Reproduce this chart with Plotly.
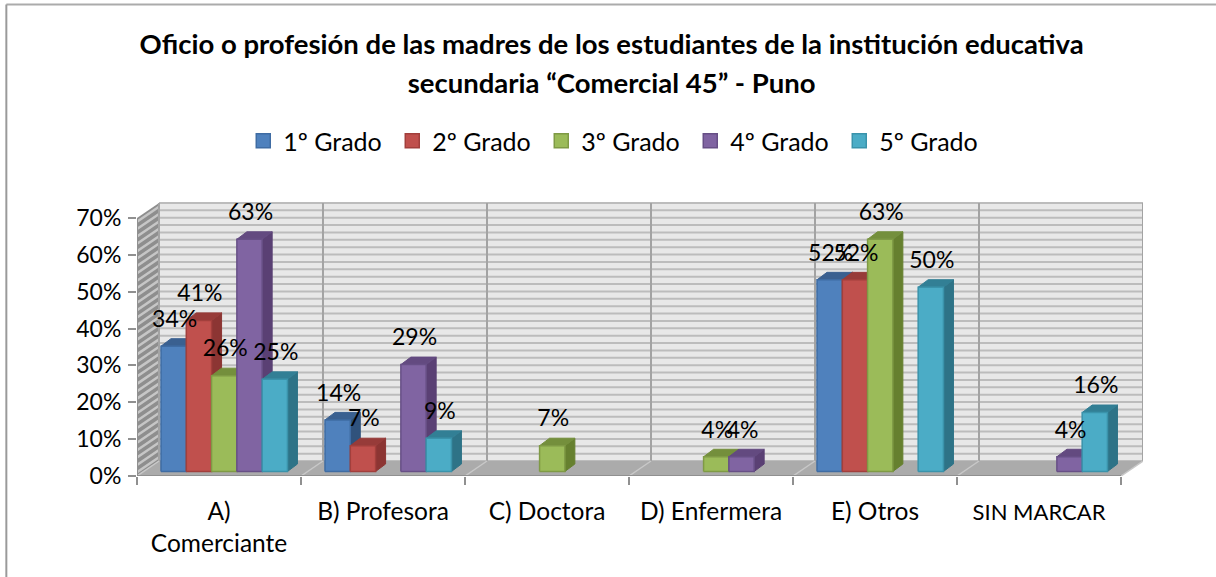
import plotly.graph_objects as go

categories = ["A)<br>Comerciante", "B) Profesora", "C) Doctora", "D) Enfermera", "E) Otros", "SIN MARCAR"]
series_names = ["1º Grado", "2º Grado", "3º Grado", "4º Grado", "5º Grado"]
grado_1 = [34, 14, 0, 0, 52, 0]
grado_2 = [41, 7, 0, 0, 52, 0]
grado_3 = [26, 0, 7, 4, 63, 0]
grado_4 = [63, 29, 0, 4, 0, 4]
grado_5 = [25, 9, 0, 0, 50, 16]
series_values = [grado_1, grado_2, grado_3, grado_4, grado_5]
y_ticks = [0, 10, 20, 30, 40, 50, 60, 70]
y_tick_labels = ["0%", "10%", "20%", "30%", "40%", "50%", "60%", "70%"]

front = ["#4F81BD", "#C0504D", "#9BBB59", "#8064A2", "#4BACC6"]
edge = ["#3F6CA3", "#A23F3C", "#7F9A45", "#674F86", "#3A93AB"]
side = ["#30527C", "#8C3533", "#66802F", "#5A4074", "#2E7387"]
top = ["#3A6090", "#973B39", "#748F3C", "#634A80", "#327F95"]

# pixel geometry of the fake 3-D box
W, H = 1216, 577
X0, X1, Y0, Y70 = 136.7, 1121.0, 476.0, 218.0
BOX_DX, BOX_DY = 22.0, 15.0
PX_X = (X1 - X0) / len(categories)     # pixels per category
PX_Y = (Y0 - Y70) / 70.0               # pixels per percent
ux = lambda px: px / PX_X
uy = lambda px: px / PX_Y
XMAX = len(categories) + ux(BOX_DX)
YMAX = (Y0 - (Y70 - BOX_DY - 1)) / PX_Y
bd, bh = ux(BOX_DX), uy(BOX_DY)
n = len(categories)
PLOT_W = X1 + BOX_DX - X0
PLOT_H = Y0 - Y70 + BOX_DY + 1
fx = lambda px: (px - X0) / PLOT_W
fy = lambda py: (Y0 - py) / PLOT_H

fig = go.Figure()
shapes = []


def poly(xs, ys, fill, line=None, width=0):
    d = "M " + " L ".join(f"{x:.4f},{y:.4f}" for x, y in zip(xs, ys)) + " Z"
    shapes.append(dict(type="path", path=d, xref="x", yref="y", layer="below", fillcolor=fill,
                       line=dict(color=line or fill, width=width)))


def seg(x0, y0, x1, y1, color, width):
    shapes.append(dict(type="line", x0=x0, y0=y0, x1=x1, y1=y1, xref="x", yref="y", layer="below",
                       line=dict(color=color, width=width)))


# back wall, left wall, floor
poly([bd, n + bd, n + bd, bd], [bh, bh, 70 + bh, 70 + bh], "#E8E8E8")
poly([0, bd, bd, 0], [0, bh, 70 + bh, 70], "#8E8E8E")
for v in range(0, 72, 2):
    seg(bd, v + bh, n + bd, v + bh, "#BCBCBC", 2)
    if v < 70:
        seg(0, v + 1, bd, v + 1 + bh, "#C6C6C6", 2.5)
for k in range(n + 1):
    seg(k + bd, bh, k + bd, 70 + bh, "#A3A3A3", 2)
poly([0, n, n + bd, bd], [0, 0, bh, bh], "#ABABAB")
for k in range(n + 1):
    seg(k, 0, k + bd, bh, "#C8C8C8", 1.5)
seg(0, 0, n, 0, "#909090", 2)
seg(0, 0, 0, 70, "#909090", 2)

# bars: side, top and front faces of every bar, in series order
GROUP_START = ux(24.0)
BAR_W = ux(25.3)
BASE = uy(4.5)
DX, DY = ux(10.0), uy(7.5)
for c in range(n):
    for s, vals in enumerate(series_values):
        v = vals[c]
        if not v:
            continue
        l = c + GROUP_START + s * BAR_W
        r = l + BAR_W
        b = BASE
        t = BASE + v
        for xs, ys, col in (
            ([r, r + DX, r + DX, r, r], [b, b + DY, t + DY, t, b], side[s]),
            ([l, l + DX, r + DX, r, l], [t, t + DY, t + DY, t, t], top[s]),
        ):
            fig.add_trace(go.Scatter(x=xs, y=ys, mode="lines", fill="toself", fillcolor=col,
                                     line=dict(color=col, width=1), hoverinfo="skip", showlegend=False))
        fig.add_trace(go.Scatter(x=[l, r, r, l, l], y=[b, b, t, t, b], mode="lines", fill="toself",
                                 fillcolor=front[s], line=dict(color=edge[s], width=1.5),
                                 name=series_names[s], hovertemplate=f"{v}%", showlegend=False))

# data labels
LX, LY, LT = [], [], []
for c in range(n):
    for s, vals in enumerate(series_values):
        if vals[c]:
            LX.append(c + GROUP_START + (s + 0.5) * BAR_W + ux(1))
            LY.append(BASE + vals[c] + uy(25))
            LT.append(f"{vals[c]}%")
fig.add_trace(go.Scatter(x=LX, y=LY, text=LT, mode="text", textposition="middle center",
                         textfont=dict(family="Lato", size=23, color="#000000"),
                         hoverinfo="skip", showlegend=False, cliponaxis=False))

# legend entries
for s, name in enumerate(series_names):
    fig.add_trace(go.Scatter(x=[None], y=[None], mode="markers", name=name,
                             marker=dict(symbol="square", size=14, color=front[s],
                                         line=dict(color=edge[s], width=1.5))))

frame = [
    dict(type="line", xref="paper", yref="paper", x0=fx(6), x1=fx(W), y0=fy(4.5), y1=fy(4.5),
         line=dict(color="#ABABAB", width=2), layer="below"),
    dict(type="line", xref="paper", yref="paper", x0=fx(6), x1=fx(6), y0=fy(H), y1=fy(4.5),
         line=dict(color="#9A9A9A", width=2), layer="below"),
]

tick_text = [f'<span style="font-size:22px">{c}</span>' if c.isupper() else c for c in categories]

fig.update_layout(
    width=W, height=H, autosize=False, paper_bgcolor="#FFFFFF", plot_bgcolor="rgba(0,0,0,0)",
    margin=dict(l=X0, r=W - X1 - BOX_DX, t=Y70 - BOX_DY - 1, b=H - Y0, pad=0),
    font=dict(family="Lato", size=24, color="#000000"),
    title=dict(text='<span style="font-size:27.5px">Oficio o profesión de las madres de los estudiantes de la institución educativa</span>'
                    '<br><span style="font-size:27.5px">secundaria “Comercial 45” - Puno</span>',
               font=dict(family="Lato", size=30, color="#000000", weight=700),
               x=0.503, xanchor="center", y=0.906, yanchor="middle"),
    legend=dict(orientation="h", x=fx(243), xanchor="left", y=fy(141), yanchor="middle",
                entrywidth=104, entrywidthmode="pixels", font=dict(family="Lato", size=25),
                bgcolor="rgba(0,0,0,0)"),
    xaxis=dict(range=[0, XMAX], tickmode="array", tickvals=[k + 0.5 for k in range(n)], ticktext=tick_text,
               ticks="outside", ticklen=14, tickcolor="rgba(0,0,0,0)", showgrid=False, zeroline=False,
               showline=False, fixedrange=True, tickfont=dict(family="Lato", size=24.5),
               minor=dict(tickmode="array", tickvals=list(range(n + 1)), ticklen=8, tickcolor="#909090",
                          tickwidth=2, ticks="outside", showgrid=False)),
    yaxis=dict(range=[0, YMAX], tickmode="array", tickvals=y_ticks, ticktext=y_tick_labels, ticks="outside",
               ticklen=8, tickwidth=2, tickcolor="#909090", showgrid=False, zeroline=False, showline=False,
               fixedrange=True, tickfont=dict(family="Lato", size=23), ticklabelstandoff=2),
    shapes=shapes + frame,
)
fig.write_html("out.html", config={"displayModeBar": False}, post_script="document.body.style.margin='0';")
